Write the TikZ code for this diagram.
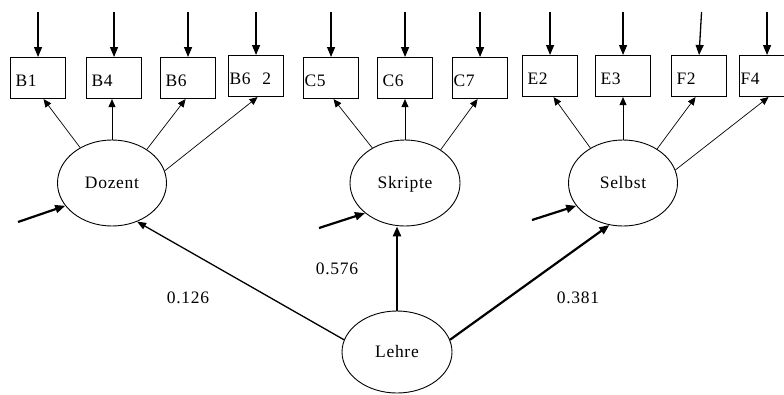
\documentclass[tikz,border=0pt]{standalone}
\usepackage{fontspec}
\setmainfont{Liberation Serif}[LetterSpace=4]
\usetikzlibrary{shapes.geometric,arrows.meta}
\begin{document}
\begin{tikzpicture}[x=1pt,y=-1pt,
  font=\fontsize{17.5}{20}\selectfont,
  box/.style={draw,line width=1.1pt,anchor=north west,minimum width=55pt,minimum height=41pt,
    inner xsep=5pt,text width=45pt,align=left,text height=17pt,text depth=0pt},
  tight/.style={inner xsep=1pt,text width=53pt},
  latent/.style={draw,ellipse,line width=0.9pt,inner sep=0pt,minimum width=109pt,minimum height=86pt,
    text height=11.5pt,text depth=0pt},
  toparrow/.style={line width=1.3pt,-{Triangle[length=10pt,width=8pt]}},
  loadarrow/.style={line width=0.7pt,-{Triangle[length=8pt,width=7pt]}},
  thinpath/.style={line width=1.3pt,-{Triangle[length=9pt,width=7pt]}},
  thickpath/.style={line width=2.2pt,-{Triangle[length=10pt,width=8pt]}},
  num/.style={inner sep=0pt}]
\useasboundingbox (0,0) rectangle (784,394);
\fill[white] (0,0) rectangle (784,394);
% boxes
\node[box] (b1) at (10,57) {B1};
\node[box] (b4) at (86,57) {B4};
\node[box] (b6) at (160,57) {B6};
\node[box,tight] (b62) at (228,55) {B6\ \ 2};
\node[box,tight] (c5) at (303,57) {C5};
\node[box] (c6) at (377,57) {C6};
\node[box,tight] (c7) at (452,57) {C7};
\node[box] (e2) at (522,55) {E2};
\node[box] (e3) at (595,55) {E3};
\node[box] (f2) at (671,55) {F2};
\node[box,tight] (f4) at (739,55) {F4};
% latent variables
\node[latent] (doz) at (112,183) {Dozent};
\node[latent,minimum width=110pt] (skr) at (405,183) {Skripte};
\node[latent] (sel) at (623,183) {Selbst};
\node[latent,minimum width=110pt,minimum height=82pt] (leh) at (397,352) {Lehre};
% error arrows on top
\coordinate (topline) at (0,12);
\foreach \b in {b1,b4,b6,b62,c5,c6,c7,e2,e3,f4}
  \draw[toparrow] (\b.north |- topline) -- (\b.north);
\draw[toparrow] ([xshift=2.5pt]f2.north |- topline) -- (f2.north);
% loadings
\draw[loadarrow] (doz.132) -- ([xshift=5.5pt]b1.south);
\draw[loadarrow] (doz.north) -- (doz.north |- b4.south);
\draw[loadarrow] (doz.44) -- ([xshift=-2.5pt]b6.south);
\draw[loadarrow] (doz.13) -- ([xshift=1.5pt]b62.south);
\draw[loadarrow] (skr.133) -- ([xshift=2.5pt]c5.south);
\draw[loadarrow] (skr.north) -- (skr.north |- c6.south);
\draw[loadarrow] (skr.43) -- ([xshift=-2.5pt]c7.south);
\draw[loadarrow] (sel.133) -- ([xshift=3.5pt]e2.south);
\draw[loadarrow] (sel.north) -- (sel.north |- e3.south);
\draw[loadarrow] (sel.45) -- ([xshift=-3.5pt]f2.south);
\draw[loadarrow] (sel.14) -- ([xshift=1.5pt]f4.south);
% disturbances
\coordinate (ddoz) at (18,222);
\coordinate (dskr) at (319,228);
\coordinate (dsel) at (532,220);
\draw[thickpath] (ddoz) -- (doz.206);
\draw[thickpath] (dskr) -- (skr.217);
\draw[thickpath] (dsel) -- (sel.206);
% structural paths
\draw[thinpath] (leh.167) -- (doz.303);
\draw[thickpath,line width=2.6pt] (leh.north) -- (leh.north |- skr.south);
\draw[thickpath] (leh.13) -- (sel.252);
% coefficients
\node[num] (k1) at (188,298) {0.126};
\node[num] (k2) at (337,269) {0.576};
\node[num] (k3) at (578,298) {0.381};
\end{tikzpicture}
\end{document}
